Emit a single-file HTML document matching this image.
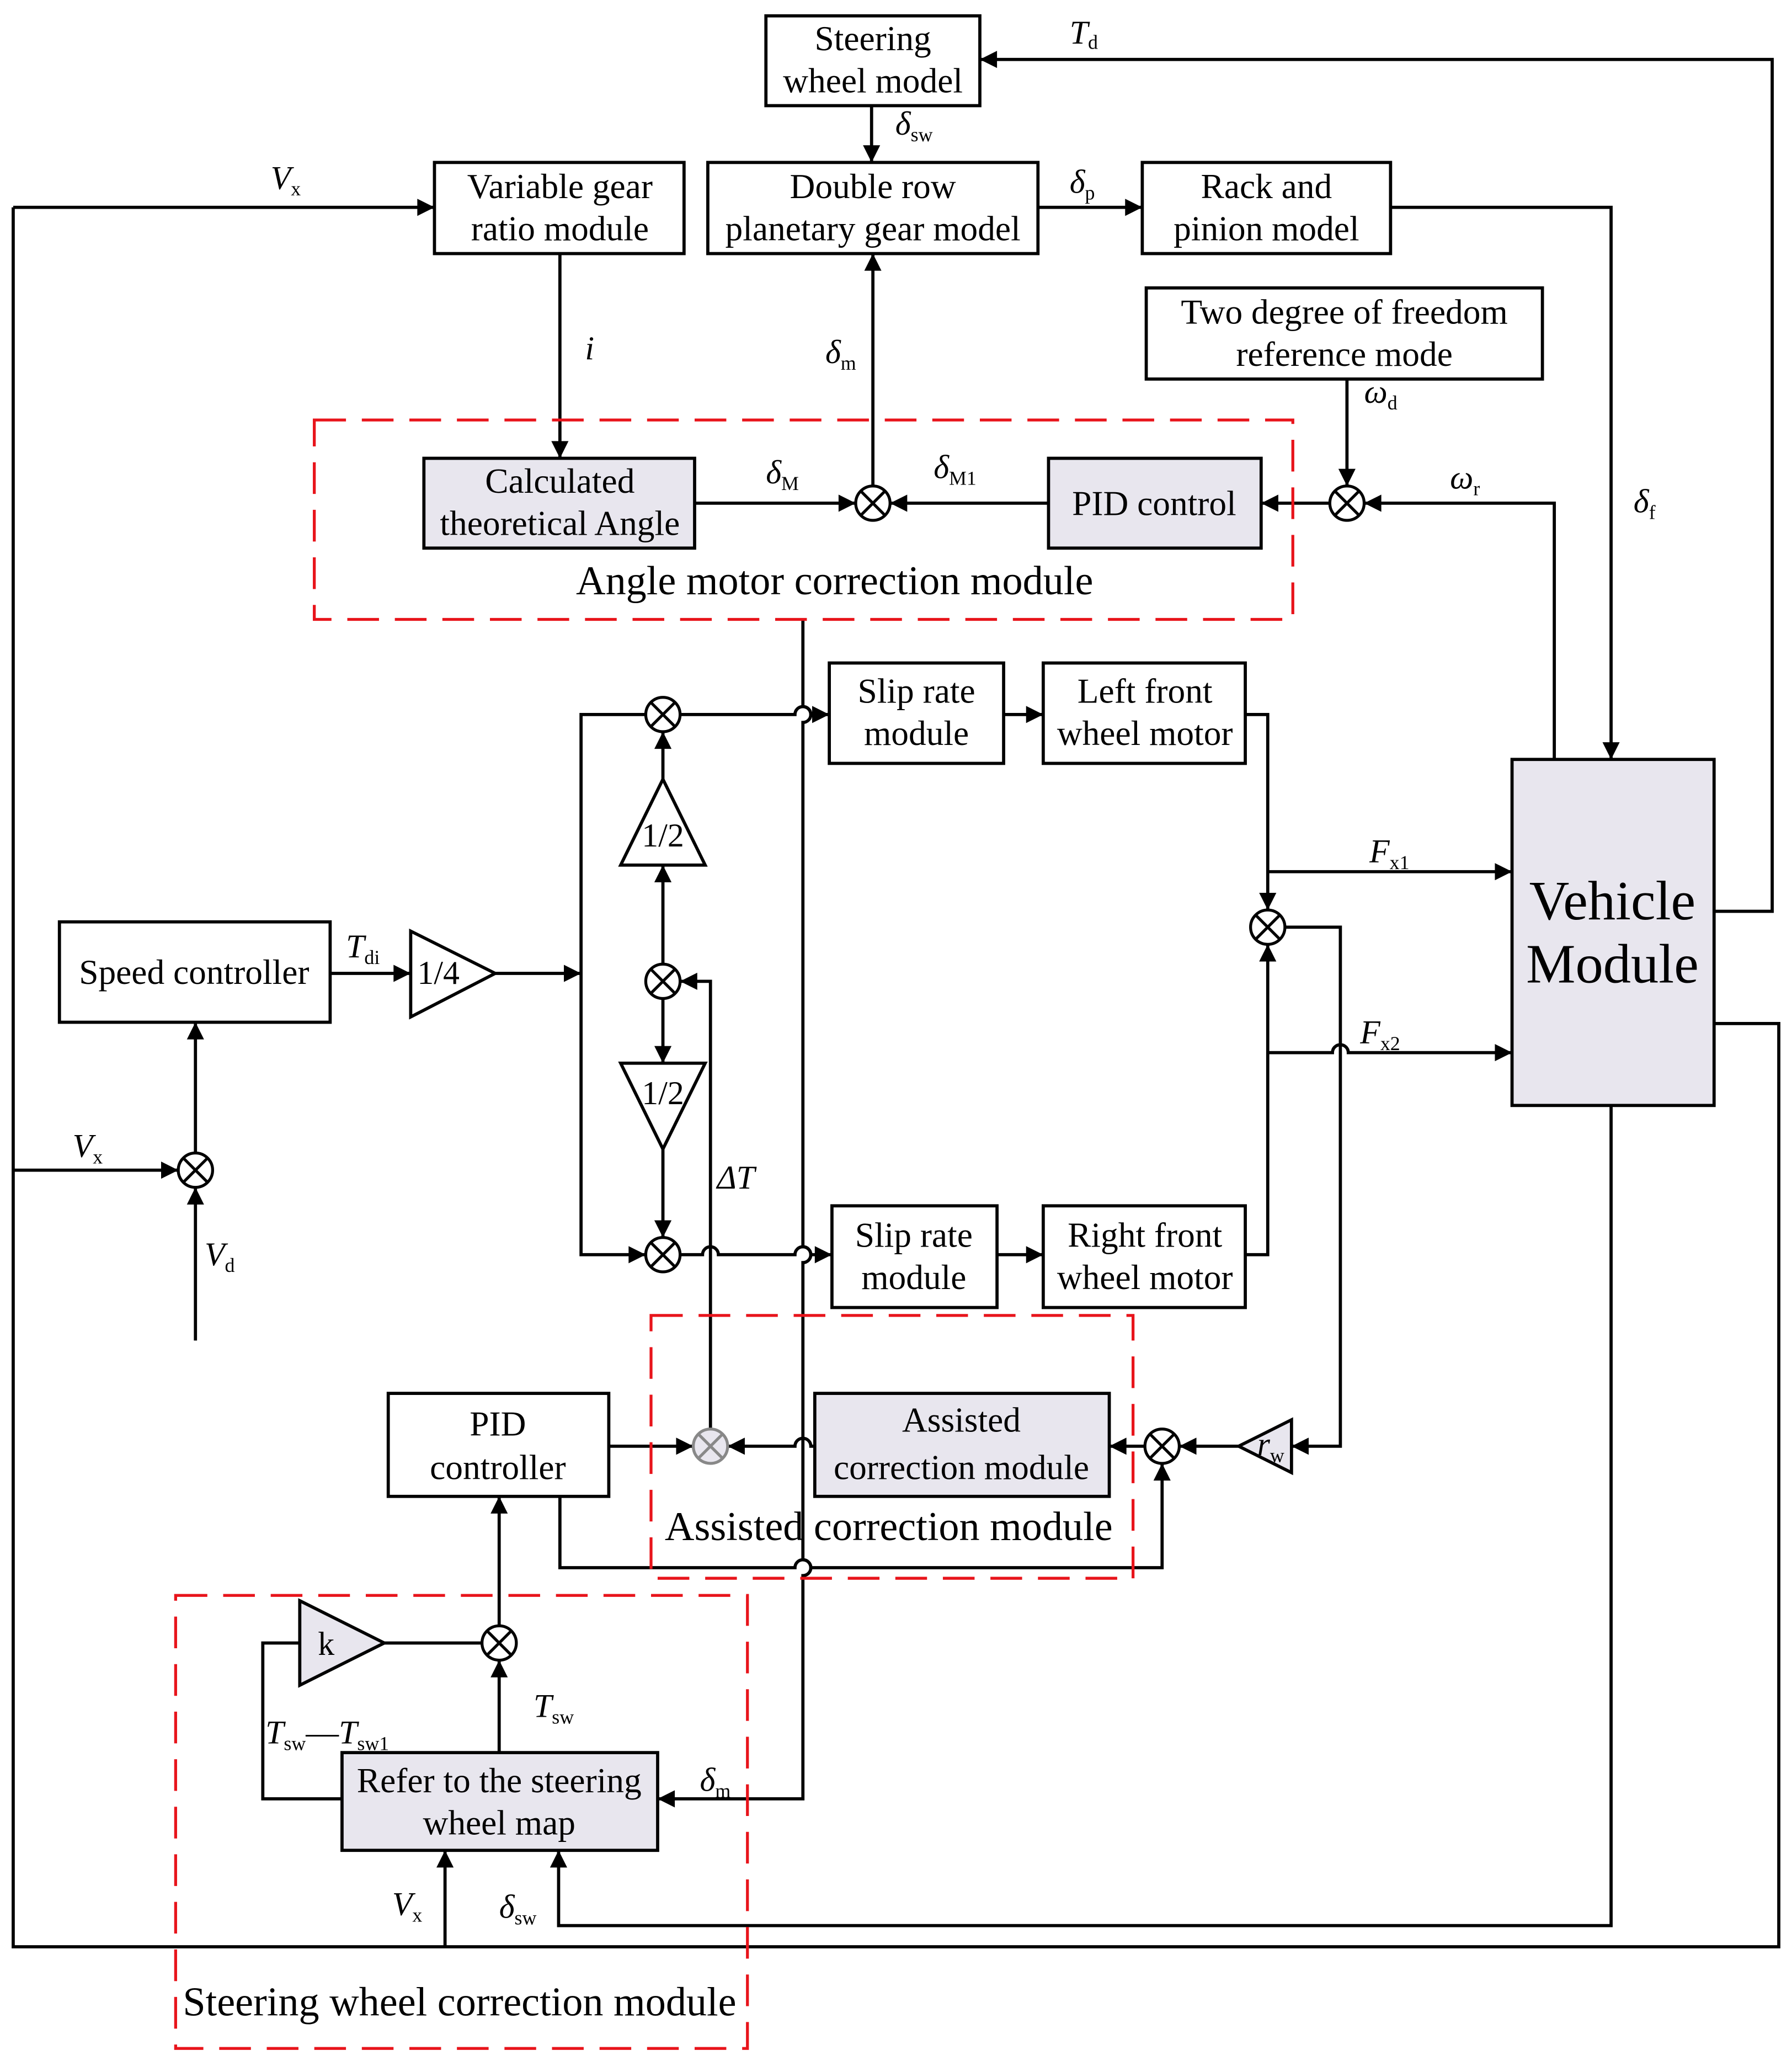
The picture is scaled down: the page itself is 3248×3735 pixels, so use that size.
<!DOCTYPE html>
<html><head><meta charset="utf-8"><style>
html,body{margin:0;padding:0;background:#fff;}
svg{display:block;}
text{font-family:"Liberation Serif",serif;fill:#000;}
</style></head><body>
<svg width="3248" height="3735" viewBox="0 0 1357 1560.5" preserveAspectRatio="none" xmlns="http://www.w3.org/2000/svg">
<defs>
<marker id="a" viewBox="0 0 10 10" refX="10" refY="5" markerWidth="14" markerHeight="13" markerUnits="userSpaceOnUse" orient="auto"><path d="M0,0 L10,5 L0,10 z" fill="#000"/></marker>
</defs>
<g fill="none" stroke="#000" stroke-width="2.4">
<rect x="580" y="12" width="162" height="68" fill="#fff"/>
<rect x="536" y="123" width="250" height="69" fill="#fff"/>
<rect x="329" y="123" width="189" height="69" fill="#fff"/>
<rect x="865" y="123" width="188" height="69" fill="#fff"/>
<rect x="868" y="218" width="300" height="69" fill="#fff"/>
<rect x="1145" y="575" width="153" height="262" fill="#e8e6ee"/>
<rect x="794" y="347" width="161" height="68" fill="#e8e6ee"/>
<rect x="321" y="347" width="205" height="68" fill="#e8e6ee"/>
<rect x="628" y="502" width="132" height="76" fill="#fff"/>
<rect x="790" y="502" width="153" height="76" fill="#fff"/>
<rect x="630" y="913" width="125" height="77" fill="#fff"/>
<rect x="790" y="913" width="153" height="77" fill="#fff"/>
<rect x="45" y="698" width="205" height="76" fill="#fff"/>
<rect x="617" y="1055" width="223" height="78" fill="#e8e6ee"/>
<rect x="294" y="1055" width="167" height="78" fill="#fff"/>
<rect x="259" y="1327" width="239" height="74" fill="#e8e6ee"/>
<path d="M502,590 L534,655 L470,655 Z" fill="#fff"/>
<path d="M502,870 L534,805 L470,805 Z" fill="#fff"/>
<path d="M311,705 L375,737 L311,770 Z" fill="#fff"/>
<path d="M938,1095 L978,1075 L978,1115 Z" fill="#e8e6ee"/>
<path d="M227,1212 L291,1244 L227,1276 Z" fill="#e8e6ee"/>
<path d="M1298,690 H1342 V45 H742" marker-end="url(#a)"/>
<path d="M660,80 V123" marker-end="url(#a)"/>
<path d="M786,157 H865" marker-end="url(#a)"/>
<path d="M10,157 H329" marker-end="url(#a)"/>
<path d="M10,157 V1474 H1347 V775 H1298"/>
<path d="M1053,157 H1220 V575" marker-end="url(#a)"/>
<path d="M1020,287 V368" marker-end="url(#a)"/>
<path d="M1177,575 V381 H1033" marker-end="url(#a)"/>
<path d="M1007,381 H955" marker-end="url(#a)"/>
<path d="M794,381 H674" marker-end="url(#a)"/>
<path d="M526,381 H648" marker-end="url(#a)"/>
<path d="M661,368 V192" marker-end="url(#a)"/>
<path d="M424,192 V347" marker-end="url(#a)"/>
<path d="M608,469 V535 a6,6 0 0 1 0,12 V944 a6,6 0 0 1 0,12 V1181 a6,6 0 0 1 0,12 V1362 H498" marker-end="url(#a)"/>
<path d="M502,590 V554" marker-end="url(#a)"/>
<path d="M502,730 V655" marker-end="url(#a)"/>
<path d="M502,756 V805" marker-end="url(#a)"/>
<path d="M502,870 V937" marker-end="url(#a)"/>
<path d="M538,1082 V743 H515" marker-end="url(#a)"/>
<path d="M489,541 H440 V950 H489" marker-end="url(#a)"/>
<path d="M375,737 H440" marker-end="url(#a)"/>
<path d="M250,737 H311" marker-end="url(#a)"/>
<path d="M148,873 V774" marker-end="url(#a)"/>
<path d="M10,886 H135" marker-end="url(#a)"/>
<path d="M148,1015 V899" marker-end="url(#a)"/>
<path d="M515,541 H602 a6,6 0 0 1 12,0 H628" marker-end="url(#a)"/>
<path d="M760,541 H790" marker-end="url(#a)"/>
<path d="M943,541 H960 V689" marker-end="url(#a)"/>
<path d="M960,660 H1145" marker-end="url(#a)"/>
<path d="M973,702 H1015 V1095 H978" marker-end="url(#a)"/>
<path d="M515,950 H532 a6,6 0 0 1 12,0 H602 a6,6 0 0 1 12,0 H630" marker-end="url(#a)"/>
<path d="M755,950 H790" marker-end="url(#a)"/>
<path d="M943,950 H960 V715" marker-end="url(#a)"/>
<path d="M960,797 H1009 a6,6 0 0 1 12,0 H1145" marker-end="url(#a)"/>
<path d="M938,1095 H893" marker-end="url(#a)"/>
<path d="M867,1095 H840" marker-end="url(#a)"/>
<path d="M617,1095 H614 a6,6 0 0 0 -12,0 H551" marker-end="url(#a)"/>
<path d="M461,1095 H525" marker-end="url(#a)"/>
<path d="M424,1133 V1187 H602 a6,6 0 0 1 12,0 H880 V1108" marker-end="url(#a)"/>
<path d="M378,1327 V1257" marker-end="url(#a)"/>
<path d="M378,1231 V1133" marker-end="url(#a)"/>
<path d="M291,1244 H365"/>
<path d="M259,1362 H199 V1244 H227"/>
<path d="M337,1474 V1401" marker-end="url(#a)"/>
<path d="M1220,837 V1458 H423 V1401" marker-end="url(#a)"/>
</g>
<g stroke="#000" stroke-width="2.2" fill="#fff">
<g transform="translate(1020,381)"><circle r="13"/><path d="M-9,-9L9,9M9,-9L-9,9"/></g>
<g transform="translate(661,381)"><circle r="13"/><path d="M-9,-9L9,9M9,-9L-9,9"/></g>
<g transform="translate(502,541)"><circle r="13"/><path d="M-9,-9L9,9M9,-9L-9,9"/></g>
<g transform="translate(502,743)"><circle r="13"/><path d="M-9,-9L9,9M9,-9L-9,9"/></g>
<g transform="translate(502,950)"><circle r="13"/><path d="M-9,-9L9,9M9,-9L-9,9"/></g>
<g transform="translate(148,886)"><circle r="13"/><path d="M-9,-9L9,9M9,-9L-9,9"/></g>
<g transform="translate(960,702)"><circle r="13"/><path d="M-9,-9L9,9M9,-9L-9,9"/></g>
<g transform="translate(880,1095)"><circle r="13"/><path d="M-9,-9L9,9M9,-9L-9,9"/></g>
<g transform="translate(378,1244)"><circle r="13"/><path d="M-9,-9L9,9M9,-9L-9,9"/></g>
<g transform="translate(538,1095)" stroke="#888" fill="#e8e6ee"><circle r="13"/><path d="M-9,-9L9,9M9,-9L-9,9"/></g>
</g>
<g fill="none" stroke="#e8141b" stroke-width="2.2" stroke-dasharray="24,12">
<rect x="238" y="318" width="741" height="151"/>
<rect x="493" y="996" width="365" height="199"/>
<rect x="133" y="1208" width="433" height="343"/>
</g>
<g font-size="26.5" text-anchor="middle">
<text x="661" y="38">Steering</text><text x="661" y="70">wheel model</text>
<text x="661" y="150">Double row</text><text x="661" y="182">planetary gear model</text>
<text x="424" y="150">Variable gear</text><text x="424" y="182">ratio module</text>
<text x="959" y="150">Rack and</text><text x="959" y="182">pinion model</text>
<text x="1018" y="245">Two degree of freedom</text><text x="1018" y="277">reference mode</text>
<text x="874" y="390">PID control</text>
<text x="424" y="373">Calculated</text><text x="424" y="405">theoretical Angle</text>
<text x="632" y="450" font-size="31">Angle motor correction module</text>
<text x="694" y="532">Slip rate</text><text x="694" y="564">module</text>
<text x="867" y="532">Left front</text><text x="867" y="564">wheel motor</text>
<text x="692" y="944">Slip rate</text><text x="692" y="976">module</text>
<text x="867" y="944">Right front</text><text x="867" y="976">wheel motor</text>
<text x="147" y="745">Speed controller</text>
<text x="502" y="641" font-size="25">1/2</text>
<text x="502" y="836" font-size="25">1/2</text>
<text x="332" y="745" font-size="25">1/4</text>
<text x="247" y="1253" font-size="25">k</text>
<text x="728" y="1084">Assisted</text><text x="728" y="1120">correction module</text>
<text x="377" y="1087">PID</text><text x="377" y="1120">controller</text>
<text x="673" y="1166" font-size="31">Assisted correction module</text>
<text x="378" y="1357">Refer to the steering</text><text x="378" y="1389">wheel map</text>
<text x="348" y="1526" font-size="31">Steering wheel correction module</text>
<text x="1221" y="696" font-size="42" font-family="Liberation Sans, sans-serif">Vehicle</text>
<text x="1221" y="744" font-size="42" font-family="Liberation Sans, sans-serif">Module</text>
</g>
<g font-size="25" font-style="italic">
<text x="810" y="33">T<tspan font-size="15" font-style="normal" dy="4">d</tspan></text>
<text x="678" y="102">δ<tspan font-size="15" font-style="normal" dy="5">sw</tspan></text>
<text x="810" y="146">δ<tspan font-size="15" font-style="normal" dy="5">p</tspan></text>
<text x="205" y="143">V<tspan font-size="15" font-style="normal" dy="5">x</tspan></text>
<text x="1033" y="305">ω<tspan font-size="15" font-style="normal" dy="5">d</tspan></text>
<text x="1098" y="370">ω<tspan font-size="15" font-style="normal" dy="5">r</tspan></text>
<text x="1237" y="388">δ<tspan font-size="15" font-style="normal" dy="5">f</tspan></text>
<text x="707" y="362">δ<tspan font-size="15" font-style="normal" dy="5">M1</tspan></text>
<text x="580" y="366">δ<tspan font-size="15" font-style="normal" dy="5">M</tspan></text>
<text x="625" y="275">δ<tspan font-size="15" font-style="normal" dy="5">m</tspan></text>
<text x="443" y="272">i</text>
<text x="262" y="725">T<tspan font-size="15" font-style="normal" dy="5">di</tspan></text>
<text x="543" y="900">ΔT</text>
<text x="55" y="876">V<tspan font-size="15" font-style="normal" dy="5">x</tspan></text>
<text x="155" y="958">V<tspan font-size="15" font-style="normal" dy="5">d</tspan></text>
<text x="1037" y="653">F<tspan font-size="15" font-style="normal" dy="5">x1</tspan></text>
<text x="1030" y="790">F<tspan font-size="15" font-style="normal" dy="5">x2</tspan></text>
<text x="952" y="1102">r<tspan font-size="15" font-style="normal" dy="5">w</tspan></text>
<text x="530" y="1356">δ<tspan font-size="15" font-style="normal" dy="5">m</tspan></text>
<text x="404" y="1300">T<tspan font-size="15" font-style="normal" dy="5">sw</tspan></text>
<text x="201" y="1320">T<tspan font-size="15" font-style="normal" dy="5">sw</tspan><tspan font-style="normal" dy="-5">—</tspan>T<tspan font-size="15" font-style="normal" dy="5">sw1</tspan></text>
<text x="297" y="1450">V<tspan font-size="15" font-style="normal" dy="5">x</tspan></text>
<text x="378" y="1452">δ<tspan font-size="15" font-style="normal" dy="5">sw</tspan></text>
</g>
</svg>
</body></html>
